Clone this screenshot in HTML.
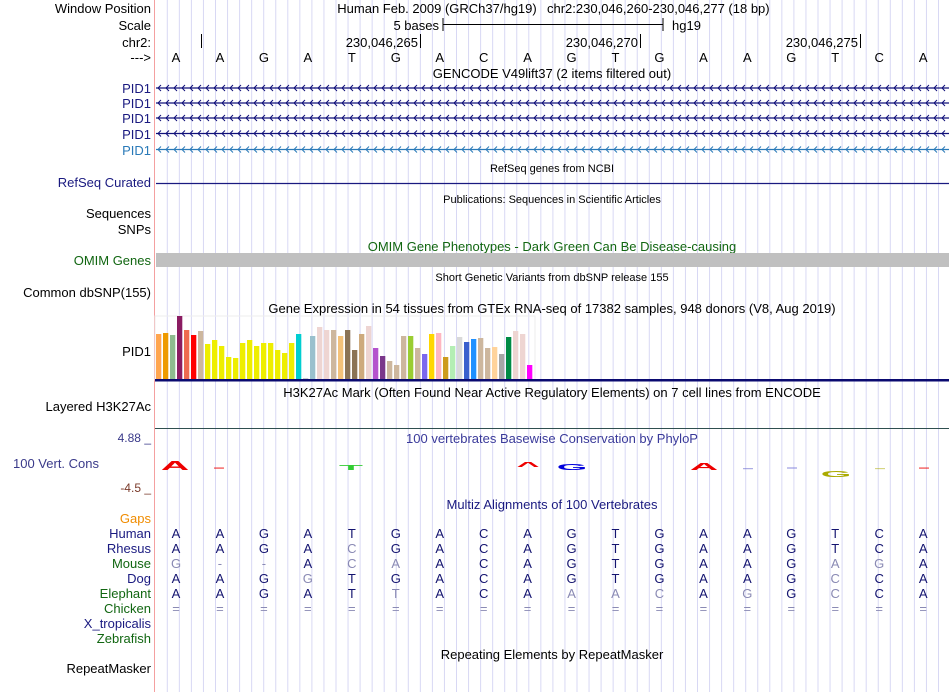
<!DOCTYPE html>
<html><head><meta charset="utf-8"><style>
body{margin:0;background:#fff;}
svg{display:block;font-family:"Liberation Sans",sans-serif;}
</style></head><body>
<svg id="s" width="950" height="692" viewBox="0 0 950 692" xmlns="http://www.w3.org/2000/svg">
<g id="grid"></g>
<line x1="154.5" y1="0" x2="154.5" y2="692" stroke="#f4a0a0"/>
<g font-size="13" fill="#000" text-anchor="end">
<text x="151" y="13">Window Position</text>
<text x="151" y="30">Scale</text>
<text x="151" y="47">chr2:</text>
<text x="151" y="62">---&gt;</text>
<text x="151" y="93" fill="#1a1a80">PID1</text>
<text x="151" y="108" fill="#1a1a80">PID1</text>
<text x="151" y="123" fill="#1a1a80">PID1</text>
<text x="151" y="139" fill="#1a1a80">PID1</text>
<text x="151" y="155" fill="#2a7ab8">PID1</text>
<text x="151" y="187" fill="#1a1a80">RefSeq Curated</text>
<text x="151" y="218">Sequences</text>
<text x="151" y="234">SNPs</text>
<text x="151" y="265" fill="#116611">OMIM Genes</text>
<text x="151" y="297">Common dbSNP(155)</text>
<text x="151" y="356">PID1</text>
<text x="151" y="411">Layered H3K27Ac</text>
<text x="151" y="442" font-size="12" fill="#3a3a8a">4.88 _</text>
<text x="99" y="468" font-size="13" fill="#3a3a8a">100 Vert. Cons</text>
<text x="151" y="492" font-size="12" fill="#7a3a2a">-4.5 _</text>
<text x="151" y="523" fill="#f08c00">Gaps</text>
<text x="151" y="673">RepeatMasker</text>
</g>
<g id="species" font-size="13" text-anchor="end"></g>
<g font-size="13" text-anchor="middle">
<text x="437" y="13">Human Feb. 2009 (GRCh37/hg19)</text>
<text x="547" y="13" text-anchor="start">chr2:230,046,260-230,046,277 (18 bp)</text>
<text x="439" y="30" text-anchor="end">5 bases</text>
<text x="672" y="30" text-anchor="start">hg19</text>
<text x="552" y="78">GENCODE V49lift37 (2 items filtered out)</text>
<text x="552" y="172" font-size="11">RefSeq genes from NCBI</text>
<text x="552" y="203" font-size="11">Publications: Sequences in Scientific Articles</text>
<text x="552" y="251" fill="#116611">OMIM Gene Phenotypes - Dark Green Can Be Disease-causing</text>
<text x="552" y="281" font-size="11">Short Genetic Variants from dbSNP release 155</text>
<text x="552" y="313">Gene Expression in 54 tissues from GTEx RNA-seq of 17382 samples, 948 donors (V8, Aug 2019)</text>
<text x="552" y="397">H3K27Ac Mark (Often Found Near Active Regulatory Elements) on 7 cell lines from ENCODE</text>
<text x="552" y="443" fill="#3a3a9a">100 vertebrates Basewise Conservation by PhyloP</text>
<text x="552" y="509" fill="#1a1a80">Multiz Alignments of 100 Vertebrates</text>
<text x="552" y="659">Repeating Elements by RepeatMasker</text>
</g>
<g stroke="#000">
<line x1="443" y1="18" x2="443" y2="31"/><line x1="663" y1="18" x2="663" y2="31"/><line x1="443" y1="24.5" x2="663" y2="24.5"/>
</g>
<g font-size="13" text-anchor="end">
<line x1="201.5" y1="34" x2="201.5" y2="48" stroke="#000"/>
<text x="418" y="47">230,046,265</text><line x1="420.5" y1="34" x2="420.5" y2="48" stroke="#000"/>
<text x="638" y="47">230,046,270</text><line x1="640.5" y1="34" x2="640.5" y2="48" stroke="#000"/>
<text x="858" y="47">230,046,275</text><line x1="860.5" y1="34" x2="860.5" y2="48" stroke="#000"/>
</g>
<g id="bases" font-size="13" text-anchor="middle"></g>
<g id="genes"></g>
<line x1="156" y1="183.5" x2="949" y2="183.5" stroke="#1a1a80" stroke-width="1.2"/>
<rect x="156" y="253" width="793" height="14" fill="#c0c0c0"/>
<rect x="155" y="316" width="380" height="64" fill="none" stroke="#eee"/>
<g id="gtex"></g>
<rect x="155" y="379" width="794" height="2.5" fill="#0a0a70"/>
<line x1="155" y1="428.5" x2="949" y2="428.5" stroke="#2f4f4f"/>
<g id="cons"></g>
<g id="multiz" font-size="13" text-anchor="middle"></g>
</svg>
<script>
const NS="http://www.w3.org/2000/svg";
function mk(tag,attrs,parent){const e=document.createElementNS(NS,tag);for(const k in attrs)e.setAttribute(k,attrs[k]);parent.appendChild(e);return e;}
const bases=["A","A","G","A","T","G","A","C","A","G","T","G","A","A","G","T","C","A"];
const speciesNames=["Human","Rhesus","Mouse","Dog","Elephant","Chicken","X_tropicalis","Zebrafish"];
const speciesColors=["#1a1a80","#1a1a80","#116611","#1a1a80","#116611","#116611","#1a1a80","#116611"];
const alignHuman=["A","A","G","A","T","G","A","C","A","G","T","G","A","A","G","T","C","A"];
const alignRhesus=["A","A","G","A","c","G","A","C","A","G","T","G","A","A","G","T","C","A"];
const alignMouse=["g","-","-","A","c","a","A","C","A","G","T","G","A","A","G","a","g","A"];
const alignDog=["A","A","G","g","T","G","A","C","A","G","T","G","A","A","G","c","C","A"];
const alignElephant=["A","A","G","A","T","t","A","C","A","a","a","c","A","g","G","c","C","A"];
const alignChicken=["=","=","=","=","=","=","=","=","=","=","=","=","=","=","=","=","=","="];
const gtexValues=[45,46,44,63,49,44,48,35,39,33,22,21,36,39,33,36,36,29,26,36,45,1,43,52,49,49,43,49,29,45,53,31,23,18,14,43,43,31,25,45,46,22,33,42,37,40,41,31,32,25,42,48,45,14];
const gtexColors=["#FFA54F","#EE9A00","#8FBC8F","#8B1C62","#EE6A50","#FF0000","#CDB79E","#EEEE00","#EEEE00","#EEEE00","#EEEE00","#EEEE00","#EEEE00","#EEEE00","#EEEE00","#EEEE00","#EEEE00","#EEEE00","#EEEE00","#EEEE00","#00CED1","#CCCCCC","#9AC0CD","#EED5D2","#EED5D2","#CDB79E","#F4C27A","#8B7355","#8B7355","#CDAA7D","#EED5D2","#B452CD","#7A378B","#CDB79E","#CDB79E","#CDB79E","#9ACD32","#CDB79E","#7B68EE","#FFD700","#FFB6C1","#CD9B1D","#B4EEB4","#D9D9D9","#3A5FCD","#1E90FF","#CDB79E","#CDB79E","#FFD39B","#A6A6A6","#008B45","#EED5D2","#EED5D2","#FF00FF"];
const consSymbols=[["A",175,"#e00",0.9],["-",219,"#e00",0.5],["T",351,"#3c3",0.5],["^",528,"#e00",0.8],["G",572,"#00d",0.6],["-",748,"#66c",0.4],["A",704,"#e00",0.7],["-",792,"#88d",0.6],["G",836,"#aa0",-0.6],["-",880,"#aa0",0.3],["-",924,"#e00",0.5]];
const x0=176, step=43.95;
const bx=i=>x0+i*step;
const grid=document.getElementById('grid');
for(let x=167.3;x<950;x+=12.05){const l=mk('line',{x1:x,y1:0,x2:x,y2:692,stroke:'#d8d8f4'},grid);

}
const bg=document.getElementById('bases');
bases.forEach((b,i)=>{const t=mk('text',{x:bx(i),y:62},bg);t.textContent=b;

});
const genes=document.getElementById('genes');
const geneY=[88,103,118,133.5,149.5];
geneY.forEach((y,r)=>{const col=r==4?'#2a7ab8':'#10107a';
const g=mk('g',{},genes);


mk('line',{x1:156,y1:y,x2:949,y2:y,stroke:col,'stroke-width':1.3},g);
let d='';for(let x=158;x<949;x+=8){d+=`M${x+3},${y-3}L${x},${y}L${x+3},${y+3}`;}
mk('path',{d:d,stroke:col,fill:'none','stroke-width':1},g);});
const gt=document.getElementById('gtex');
const gmax=63, base=379, gh=63;
gtexValues.forEach((v,i)=>{const h=v/gmax*gh;const r=mk('rect',{x:156+i*7.0,y:base-h,width:5.3,height:h,fill:gtexColors[i]},gt);

});
const cg=document.getElementById('cons');
consSymbols.forEach(([s,x,c,h])=>{const sy=Math.abs(h);const y=h>0?470:477;
const t=mk('text',{x:0,y:0,'font-size':14,'font-weight':'bold','text-anchor':'middle',fill:c,transform:`translate(${x},${y}) scale(2.8,${sy})`},cg);
t.textContent=s;

});
const sp=document.getElementById('species');
speciesNames.forEach((n,i)=>{const t=mk('text',{x:151,y:538+i*15,fill:speciesColors[i]},sp);t.textContent=n;

});
const mz=document.getElementById('multiz');
[alignHuman,alignRhesus,alignMouse,alignDog,alignElephant,alignChicken].forEach((row,r)=>{
row.forEach((c,i)=>{const faded=(c!==c.toUpperCase())||c=='='||c=='-';
const t=mk('text',{x:bx(i),y:538+r*15,fill:faded?'#8a8ab4':'#141470'},mz);t.textContent=c.toUpperCase();

});});
</script>
</body></html>
